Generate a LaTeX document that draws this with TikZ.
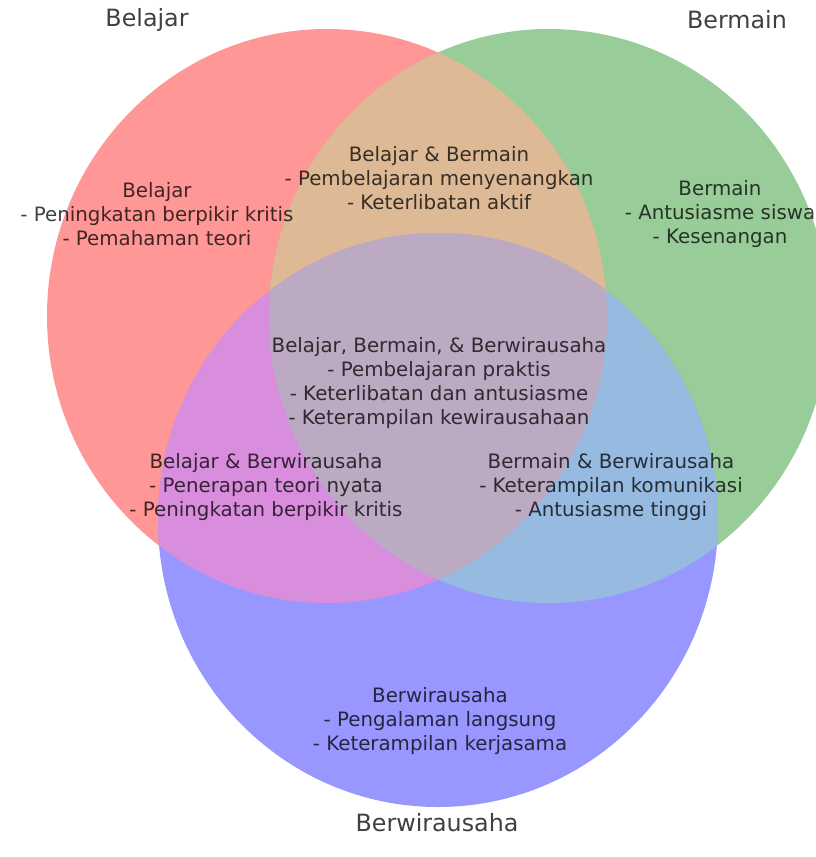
\documentclass[tikz,border=0pt]{standalone}
\usepackage{fontspec}
\setmainfont{DejaVu Sans}

\definecolor{belajarfill}{RGB}{255,151,151}
\definecolor{bermainfill}{RGB}{152,204,152}
\definecolor{usahafill}{RGB}{151,151,255}
\definecolor{belbermfill}{RGB}{221,185,149}
\definecolor{belusahafill}{RGB}{217,141,221}
\definecolor{bermusahafill}{RGB}{151,187,224}
\definecolor{semuafill}{RGB}{188,169,194}

\begin{document}
\begin{tikzpicture}[
                %scale in pixels of the reference
                x=0.03cm, y=-0.03cm,
                setlabel/.style={align=center,inner sep=0pt,text=black,text opacity=0.75,font=\fontsize{20.3}{24.4}\selectfont},
                regionlabel/.style={align=center,inner sep=0pt,text=black,text opacity=0.75,font=\fontsize{16.9}{20.3}\selectfont}] %

\useasboundingbox (0,0) rectangle (816,857);
\clip (0,0) rectangle (816,857);

% circles


                    % 1
                    \fill[belajarfill] (327,316) ellipse [x radius=280, y radius=287];
                    \fill[bermainfill] (549,316) ellipse [x radius=280, y radius=287];
                    \fill[usahafill] (438,520) ellipse [x radius=280, y radius=287];

                    % 2
                    \begin{scope}
                    \clip (327,316) ellipse [x radius=280, y radius=287];
                    \fill[belbermfill] (549,316) ellipse [x radius=280, y radius=287];
                    \fill[belusahafill] (438,520) ellipse [x radius=280, y radius=287];
                    \end{scope}

                    % 3
                    \begin{scope}
                    \clip (549,316) ellipse [x radius=280, y radius=287];
                    \fill[bermusahafill] (438,520) ellipse [x radius=280, y radius=287];
                    \end{scope}

                    % 4
                    \begin{scope}
                    \clip (327,316) ellipse [x radius=280, y radius=287];
                    \clip (549,316) ellipse [x radius=280, y radius=287];
                    \fill[semuafill] (438,520) ellipse [x radius=280, y radius=287];
                    \end{scope}


% set names


                    \node[setlabel] (BELAJAR) at (147,20) {Belajar};
                    \node[setlabel] (BERMAIN) at (737,20) {Bermain};
                    \node[setlabel] (USAHA) at (437,823) {Berwirausaha};


% region texts


                    % 1
                    \node[regionlabel] (ONLYBEL) at (157,214) {Belajar\\- Peningkatan berpikir kritis\\- Pemahaman teori};

                    % 2
                    \node[regionlabel] (ONLYBERM) at (720,214) {Bermain\\- Antusiasme siswa\\- Kesenangan};

                    % 3
                    \node[regionlabel] (ONLYUSAHA) at (440,721) {Berwirausaha\\- Pengalaman langsung\\- Keterampilan kerjasama};

                    % 4
                    \node[regionlabel] (BELBERM) at (439,178) {Belajar \& Bermain\\- Pembelajaran menyenangkan\\- Keterlibatan aktif};

                    % 5
                    \node[regionlabel] (BELUSAHA) at (266,487) {Belajar \& Berwirausaha\\- Penerapan teori nyata\\- Peningkatan berpikir kritis};

                    % 6
                    \node[regionlabel] (BERMUSAHA) at (611,487) {Bermain \& Berwirausaha\\- Keterampilan komunikasi\\- Antusiasme tinggi};

                    % 7
                    \node[regionlabel] (SEMUA) at (439,383) {Belajar, Bermain, \& Berwirausaha\\- Pembelajaran praktis\\- Keterlibatan dan antusiasme\\- Keterampilan kewirausahaan};


%%%%%%%%%%%%%%%%%%%%%%%%%%%%%%%%%%%%%%%%%%%%%%%%%%%%%%%%%%%%%%%%%%%%%%%%%%%%%%%%%%%%


\end{tikzpicture}
\end{document}
